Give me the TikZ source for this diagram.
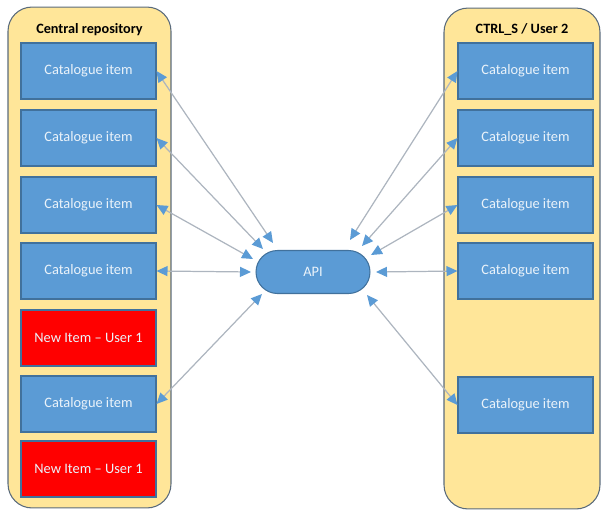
\documentclass[tikz,border=0pt]{standalone}
\usepackage{fontspec}
\setmainfont{Carlito}
\usetikzlibrary{arrows.meta}

\definecolor{panelfill}{HTML}{FFE699}
\definecolor{paneldraw}{HTML}{5A6B7C}
\definecolor{itemfill}{HTML}{5B9BD5}
\definecolor{itemdraw}{HTML}{41719C}
\definecolor{newfill}{HTML}{FF0000}
\definecolor{linkgray}{HTML}{ADB5BF}

\tikzset{
  panel/.style={draw=paneldraw, fill=panelfill, line width=0.6pt, rounded corners=0.48cm,
    minimum width=3.26cm, minimum height=10.02cm, inner sep=0pt},
  paneltitle/.style={font=\fontsize{8.1}{10}\selectfont\bfseries, text=black},
  item/.style={draw=itemdraw, fill=itemfill, line width=0.6pt, minimum width=2.7cm,
    minimum height=1.12cm, inner sep=0pt, text=white!88!itemfill, font=\fontsize{8.2}{10}\selectfont},
  newitem/.style={item, fill=newfill},
  link/.style={draw=linkgray, line width=0.7pt,
    {Triangle[color=itemfill, length=0.22cm, width=0.2cm]}-{Triangle[color=itemfill, length=0.22cm, width=0.2cm]}}
}

\begin{document}
\begin{tikzpicture}[x=0.02cm, y=-0.02cm]
  \useasboundingbox (0,0) rectangle (603,511);

  % Containers
  \node[panel] (central) at (89.5,257.5) {};
  \node[panel, minimum width=3.12cm] (user2) at (522,258.5) {};
  \node[paneltitle] (centraltitle) at (89.5,29.5) {Central repository};
  \node[paneltitle] (user2title) at (522,29.5) {CTRL\_S / User 2};

  % Items, left
  \node[item] (l1) at (88.5,71) {Catalogue item};
  \node[item] (l2) at (88.5,138) {Catalogue item};
  \node[item] (l3) at (88.5,205) {Catalogue item};
  \node[item] (l4) at (88.5,271) {Catalogue item};
  \node[newitem] (l5) at (88.5,338) {New Item -- User 1};
  \node[item] (l6) at (88.5,404) {Catalogue item};
  \node[newitem] (l7) at (88.5,469) {New Item -- User 1};

  % Items, right
  \node[item] (r1) at (525.5,71) {Catalogue item};
  \node[item] (r2) at (525.5,138) {Catalogue item};
  \node[item] (r3) at (525.5,205) {Catalogue item};
  \node[item] (r4) at (525.5,271) {Catalogue item};
  \node[item] (r5) at (525.5,405) {Catalogue item};

  % API
  \node[item, rounded corners=0.43cm, minimum width=2.28cm, minimum height=0.86cm] (api) at (313,272) {API};

  % Links
  \foreach \b/\x/\y in {l1/273/243, l2/263/249, l3/253/259, l4/251/272, l6/262/294}{
    \coordinate (\b-api) at (\x,\y);
    \draw[link] (\b.east) -- (\b-api);
  }
  \foreach \b/\x/\y in {r1/350/240, r2/362/246, r3/371/255, r4/376/272, r5/367/295}{
    \coordinate (\b-api) at (\x,\y);
    \draw[link] (\b.west) -- (\b-api);
  }
\end{tikzpicture}
\end{document}
